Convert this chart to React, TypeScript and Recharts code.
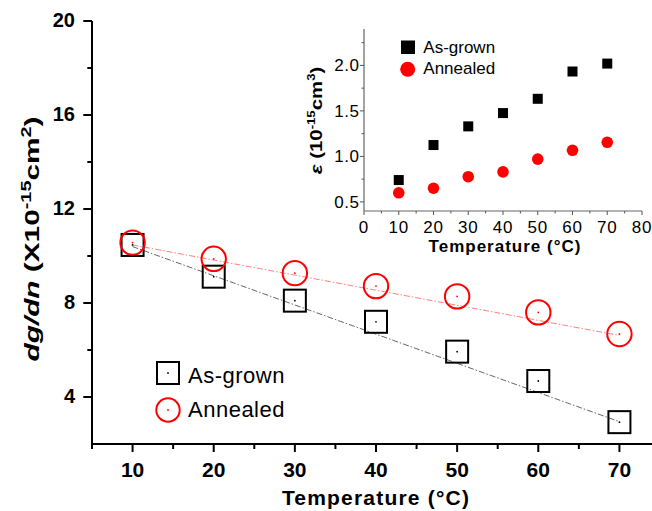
import React from 'react';
import { ScatterChart, Scatter, XAxis, YAxis, Legend } from 'recharts';

const FONT = '"Liberation Sans", Arial, Helvetica, sans-serif';

// ---- data ----
const temperatures = [10, 20, 30, 40, 50, 60, 70];
const dgdnAsGrown = [10.47, 9.12, 8.1, 7.2, 5.93, 4.68, 2.93];
const dgdnAnnealed = [10.57, 9.88, 9.27, 8.72, 8.28, 7.6, 6.68];
const fitTemperatures = [10, 70];
const fitAsGrown = [10.4, 2.95];
const fitAnnealed = [10.47, 6.62];
const epsAsGrown = [0.74, 1.125, 1.33, 1.476, 1.633, 1.933, 2.02];
const epsAnnealed = [0.6, 0.65, 0.777, 0.83, 0.97, 1.067, 1.155];

// ---- ticks ----
const mainXTicks = [5, 10, 15, 20, 25, 30, 35, 40, 45, 50, 55, 60, 65, 70, 75];
const mainXLabels = [10, 20, 30, 40, 50, 60, 70];
const mainYTicks = [4, 6, 8, 10, 12, 14, 16, 18, 20];
const mainYLabels = [4, 8, 12, 16, 20];
const insetXTicks = [0, 5, 10, 15, 20, 25, 30, 35, 40, 45, 50, 55, 60, 65, 70, 75, 80];
const insetXLabels = [0, 10, 20, 30, 40, 50, 60, 70, 80];
const insetYTicks = [0.5, 0.75, 1, 1.25, 1.5, 1.75, 2, 2.25];
const insetYLabels = [0.5, 1, 1.5, 2];

const toPoints = (xs: number[], ys: number[]) => xs.map((x, i) => ({ x, y: ys[i] }));

const asGrownPts = toPoints(temperatures, dgdnAsGrown);
const annealedPts = toPoints(temperatures, dgdnAnnealed);
const fitAsGrownPts = toPoints(fitTemperatures, fitAsGrown);
const fitAnnealedPts = toPoints(fitTemperatures, fitAnnealed);
const epsAsGrownPts = toPoints(temperatures, epsAsGrown);
const epsAnnealedPts = toPoints(temperatures, epsAnnealed);

// ---- tick renderers ----
const MainXTick = (p: any) => {
  const v = p.payload.value;
  const major = mainXLabels.includes(v);
  return (
    <g>
      <line x1={p.x} x2={p.x} y1={p.y} y2={p.y + (major ? 8 : 5)} stroke="#000" strokeWidth={2} />
      {major && (
        <text x={p.x} y={p.y + 32.7} textAnchor="middle" fontFamily={FONT} fontWeight="bold" fontSize={21} fill="#000">
          {v}
        </text>
      )}
    </g>
  );
};

const MainYTick = (p: any) => {
  const v = p.payload.value;
  const major = mainYLabels.includes(v);
  return (
    <g>
      <line x1={p.x - (major ? 8.7 : 4.7)} x2={p.x} y1={p.y} y2={p.y} stroke="#000" strokeWidth={2} />
      {major && (
        <text x={p.x - 17} y={p.y + 5.7} textAnchor="end" fontFamily={FONT} fontWeight="bold" fontSize={20} fill="#000">
          {v}
        </text>
      )}
    </g>
  );
};

const InsetXTick = (p: any) => {
  const v = p.payload.value;
  const major = insetXLabels.includes(v);
  return (
    <g>
      <line x1={p.x} x2={p.x} y1={p.y} y2={p.y + (major ? 4 : 2.5)} stroke="#555" strokeWidth={1} />
      {major && (
        <text x={p.x} y={p.y + 21.7} textAnchor="middle" fontFamily={FONT} fontSize={17} letterSpacing={0.8} fill="#000">
          {v}
        </text>
      )}
    </g>
  );
};

const InsetYTick = (p: any) => {
  const v = p.payload.value;
  const major = insetYLabels.includes(v);
  return (
    <g>
      <line x1={p.x - (major ? 4 : 2.5)} x2={p.x} y1={p.y} y2={p.y} stroke="#555" strokeWidth={1} />
      {major && (
        <text x={p.x - 4.5} y={p.y + 6} textAnchor="end" fontFamily={FONT} fontSize={17} letterSpacing={0.5} fill="#000">
          {v.toFixed(1)}
        </text>
      )}
    </g>
  );
};

// ---- axis titles ----
const MainXTitle = (props: any) => {
  const vb = props.viewBox || { x: 92, y: 444, width: 568, height: 60 };
  return (
    <text x={vb.x + vb.width / 2} y={vb.y + 60.5} textAnchor="middle" fontFamily={FONT} fontWeight="bold" fontSize={21} letterSpacing={1.2} fill="#000">
      Temperature (°C)
    </text>
  );
};

const MainYTitle = (props: any) => {
  const vb = props.viewBox || { x: 2, y: 21, width: 90, height: 423 };
  const cx = vb.x + 36.5;
  const cy = vb.y + vb.height / 2 + 6.5;
  return (
    <text
      transform={`translate(${cx},${cy}) rotate(-90) scale(1.42,1)`}
      x={0}
      y={0}
      textAnchor="middle"
      fontFamily={FONT}
      fontWeight="bold"
      fontSize={21}
      fill="#000"
    >
      <tspan fontStyle="italic">dg/dn</tspan>
      <tspan> (X10</tspan>
      <tspan dy={-8} fontSize={14}>-15</tspan>
      <tspan dy={8}>cm</tspan>
      <tspan dy={-8} fontSize={14}>2</tspan>
      <tspan dy={8}>)</tspan>
    </text>
  );
};

const InsetXTitle = (props: any) => {
  const vb = props.viewBox || { x: 74, y: 211, width: 278, height: 50 };
  return (
    <text x={vb.x + vb.width / 2 + 2} y={vb.y + 40.7} textAnchor="middle" fontFamily={FONT} fontWeight="bold" fontSize={17} letterSpacing={1} fill="#000">
      Temperature (°C)
    </text>
  );
};

const InsetYTitle = (props: any) => {
  const vb = props.viewBox || { x: 14, y: 29, width: 60, height: 182 };
  const cx = vb.x + 18;
  const cy = vb.y + vb.height / 2 + 0.5;
  return (
    <text
      transform={`translate(${cx},${cy}) rotate(-90) scale(1.2,1)`}
      x={0}
      y={0}
      textAnchor="middle"
      fontFamily={FONT}
      fontWeight="bold"
      fontSize={17}
      fill="#000"
    >
      <tspan fontStyle="italic">ε</tspan>
      <tspan> (10</tspan>
      <tspan dy={-7} fontSize={11}>-15</tspan>
      <tspan dy={7}>cm</tspan>
      <tspan dy={-7} fontSize={11}>3</tspan>
      <tspan dy={7}>)</tspan>
    </text>
  );
};

// ---- markers ----
const HollowSquare = (p: any) => (
  <g>
    <rect x={p.cx - 11} y={p.cy - 11} width={22} height={22} fill="none" stroke="#000" strokeWidth={2} />
    <circle cx={p.cx} cy={p.cy} r={0.9} fill="#000" />
  </g>
);

const HollowCircle = (p: any) => (
  <g>
    <circle cx={p.cx} cy={p.cy} r={12.2} fill="none" stroke="#ff0000" strokeWidth={2} />
    <circle cx={p.cx} cy={p.cy} r={0.9} fill="#ff0000" />
  </g>
);

const FilledSquare = (p: any) => <rect x={p.cx - 5} y={p.cy - 5} width={10} height={10} fill="#000" />;
const FilledCircle = (p: any) => <circle cx={p.cx} cy={p.cy} r={5.8} fill="#ff0000" />;
const NoMarker = () => <g />;

// ---- legends ----
const MainLegend = () => (
  <svg width={200} height={75} style={{ display: 'block', overflow: 'visible' }}>
    <rect x={7} y={7} width={22} height={22} fill="none" stroke="#000" strokeWidth={2} />
    <circle cx={18} cy={18} r={0.9} fill="#000" />
    <text x={38} y={27.7} fontFamily={FONT} fontSize={22} letterSpacing={0.5} fill="#000">
      As-grown
    </text>
    <circle cx={18} cy={55} r={11.7} fill="none" stroke="#ff0000" strokeWidth={2} />
    <circle cx={18} cy={55} r={0.9} fill="#ff0000" />
    <text x={38} y={61.7} fontFamily={FONT} fontSize={22} letterSpacing={0.5} fill="#000">
      Annealed
    </text>
  </svg>
);

const InsetLegend = () => (
  <svg width={110} height={50} style={{ display: 'block', overflow: 'visible' }}>
    <rect x={11} y={10.5} width={14} height={13.5} fill="#000" />
    <text x={33.3} y={23.3} fontFamily={FONT} fontSize={17} fill="#000">
      As-grown
    </text>
    <circle cx={17.7} cy={39.3} r={7.5} fill="#ff0000" />
    <text x={33.3} y={44} fontFamily={FONT} fontSize={17} fill="#000">
      Annealed
    </text>
  </svg>
);

const blackAxis = { stroke: '#000', strokeWidth: 2 };
const grayAxis = { stroke: '#666', strokeWidth: 1.2 };

export default function App() {
  return (
    <div
      style={{
        position: 'fixed',
        left: 0,
        top: 0,
        width: 652,
        height: 511,
        overflow: 'hidden',
        background: '#fff',
      }}
    >
      <ScatterChart width={690} height={511} margin={{ top: 21, right: 30, bottom: 7, left: 2 }}>
        <XAxis
          xAxisId="b"
          dataKey="x"
          type="number"
          domain={[5, 75]}
          ticks={mainXTicks}
          interval={0}
          tickSize={0}
          tickMargin={0}
          tickLine={false}
          tick={MainXTick}
          axisLine={blackAxis}
          height={60}
          allowDataOverflow
          label={MainXTitle}
        />
        <XAxis xAxisId="t" orientation="top" type="number" domain={[5, 75]} tick={false} tickLine={false} height={0} axisLine={blackAxis} />
        <YAxis
          yAxisId="l"
          dataKey="y"
          type="number"
          domain={[2, 20]}
          ticks={mainYTicks}
          interval={0}
          tickSize={0}
          tickMargin={0}
          tickLine={false}
          tick={MainYTick}
          axisLine={blackAxis}
          width={90}
          allowDataOverflow
          label={MainYTitle}
        />
        <YAxis yAxisId="r" orientation="right" type="number" domain={[2, 20]} tick={false} tickLine={false} width={0} axisLine={blackAxis} />
        <Scatter
          name="As-grown fit"
          xAxisId="b"
          yAxisId="l"
          data={fitAsGrownPts}
          line={{ stroke: '#000', strokeWidth: 1, strokeOpacity: 0.6, strokeDasharray: '6 2 1.5 2' }}
          shape={NoMarker}
          legendType="none"
          isAnimationActive={false}
        />
        <Scatter
          name="Annealed fit"
          xAxisId="b"
          yAxisId="l"
          data={fitAnnealedPts}
          line={{ stroke: '#ff0000', strokeWidth: 1, strokeOpacity: 0.5, strokeDasharray: '6 2 1.5 2' }}
          shape={NoMarker}
          legendType="none"
          isAnimationActive={false}
        />
        <Scatter name="As-grown" xAxisId="b" yAxisId="l" data={asGrownPts} shape={HollowSquare} isAnimationActive={false} />
        <Scatter name="Annealed" xAxisId="b" yAxisId="l" data={annealedPts} shape={HollowCircle} isAnimationActive={false} />
        <Legend
          content={MainLegend}
          layout="vertical"
          align="center"
          verticalAlign="middle"
          wrapperStyle={{ position: 'absolute', left: 150, top: 355, width: 200, height: 75 }}
        />
      </ScatterChart>

      <div style={{ position: 'absolute', left: 290, top: 0, width: 362, height: 265 }}>
        <ScatterChart width={362} height={265} margin={{ top: 29, right: 10, bottom: 4, left: 14 }}>
          <XAxis
            xAxisId="b"
            dataKey="x"
            type="number"
            domain={[0, 80]}
            ticks={insetXTicks}
            interval={0}
            tickSize={0}
            tickMargin={0}
            tickLine={false}
            tick={InsetXTick}
            axisLine={grayAxis}
            height={50}
            allowDataOverflow
            label={InsetXTitle}
          />
          <XAxis xAxisId="t" orientation="top" type="number" domain={[0, 80]} tick={false} tickLine={false} height={0} axisLine={grayAxis} />
          <YAxis
            yAxisId="l"
            dataKey="y"
            type="number"
            domain={[0.4, 2.4]}
            ticks={insetYTicks}
            interval={0}
            tickSize={0}
            tickMargin={0}
            tickLine={false}
            tick={InsetYTick}
            axisLine={grayAxis}
            width={60}
            allowDataOverflow
            label={InsetYTitle}
          />
          <YAxis yAxisId="r" orientation="right" type="number" domain={[0.4, 2.4]} tick={false} tickLine={false} width={0} axisLine={grayAxis} />
          <Scatter name="As-grown" xAxisId="b" yAxisId="l" data={epsAsGrownPts} shape={FilledSquare} isAnimationActive={false} />
          <Scatter name="Annealed" xAxisId="b" yAxisId="l" data={epsAnnealedPts} shape={FilledCircle} isAnimationActive={false} />
          <Legend
            content={InsetLegend}
            layout="vertical"
            align="center"
            verticalAlign="middle"
            wrapperStyle={{ position: 'absolute', left: 100, top: 30, width: 110, height: 50 }}
          />
        </ScatterChart>
      </div>
    </div>
  );
}
